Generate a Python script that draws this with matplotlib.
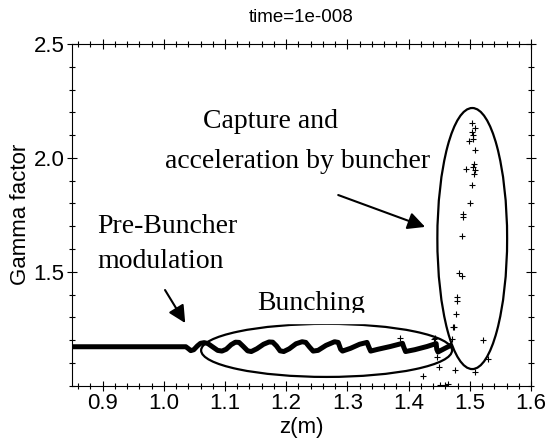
import matplotlib
matplotlib.use("Agg")
import matplotlib.pyplot as plt
from matplotlib.patches import Ellipse, Rectangle
from matplotlib.ticker import MultipleLocator

# main particle stream (thick band), z in m and gamma
stream_z = [0.85, 1.036, 1.040, 1.044, 1.049, 1.055, 1.060, 1.066, 1.072, 1.080,
            1.088, 1.095, 1.102, 1.110, 1.117, 1.123, 1.130, 1.137, 1.143, 1.152,
            1.163, 1.172, 1.178, 1.184, 1.190, 1.196, 1.205, 1.216, 1.226, 1.232,
            1.238, 1.244, 1.252, 1.265, 1.279, 1.285, 1.289, 1.292, 1.305, 1.320,
            1.332, 1.335, 1.338, 1.350, 1.370, 1.390, 1.392, 1.395, 1.410, 1.430,
            1.445, 1.446, 1.448, 1.460, 1.471]
stream_g = [1.171, 1.171, 1.163, 1.154, 1.158, 1.175, 1.186, 1.189, 1.185, 1.170,
            1.155, 1.152, 1.160, 1.180, 1.191, 1.190, 1.172, 1.153, 1.150, 1.162,
            1.182, 1.192, 1.191, 1.175, 1.153, 1.150, 1.162, 1.184, 1.193, 1.190,
            1.170, 1.152, 1.155, 1.177, 1.193, 1.190, 1.160, 1.152, 1.164, 1.182,
            1.190, 1.170, 1.152, 1.160, 1.172, 1.186, 1.170, 1.150, 1.158, 1.172,
            1.185, 1.160, 1.148, 1.165, 1.180]

# scattered particles
pts_z = [1.386, 1.441, 1.443, 1.446, 1.449, 1.451, 1.460, 1.465, 1.424, 1.471,
         1.475, 1.473, 1.474, 1.477, 1.479, 1.479, 1.483, 1.488, 1.487, 1.489,
         1.489, 1.500, 1.504, 1.494, 1.507, 1.508, 1.506, 1.507, 1.509, 1.498,
         1.505, 1.506, 1.504, 1.503, 1.509, 1.521, 1.529, 1.509]
pts_g = [1.208, 1.206, 1.210, 1.127, 1.083, 1.003, 1.003, 1.007, 1.043, 1.204,
         1.069, 1.259, 1.256, 1.315, 1.373, 1.391, 1.496, 1.483, 1.657, 1.754,
         1.742, 1.800, 1.881, 1.950, 1.930, 1.945, 1.960, 1.975, 2.035, 2.076,
         2.085, 2.100, 2.115, 2.155, 2.130, 1.201, 1.116, 1.061]

fig = plt.figure(figsize=(5.47, 4.47), dpi=100)
ax = fig.add_axes([72 / 547, 1 - 385.7 / 447, (531 - 72) / 547, (385.7 - 44) / 447])

ax.plot(stream_z, stream_g, color="black", lw=3.6, solid_joinstyle="round",
        solid_capstyle="butt")
ax.plot(pts_z, pts_g, "+", color="black", ms=5, mew=0.8)

ax.add_patch(Ellipse((1.266, 1.155), 0.41, 0.233, fill=False, lw=1.6, color="black"))
ax.add_patch(Ellipse((1.504, 1.646), 0.114, 1.146, fill=False, lw=1.6, color="black"))

serif = "Liberation Serif"
ax.text(1.175, 2.158, "Capture and", fontsize=20, family=serif, ha="center", va="center")
ax.text(1.219, 1.986, "acceleration by buncher", fontsize=20, family=serif, ha="center", va="center")
ax.text(0.891, 1.701, "Pre-Buncher", fontsize=20, family=serif, ha="left", va="center")
ax.text(0.891, 1.547, "modulation", fontsize=20, family=serif, ha="left", va="center")
ax.text(1.241, 1.359, "Bunching", fontsize=20, family=serif, ha="center", va="center")
# the original cuts off the bottom of "Bunching"
ax.add_patch(Rectangle((1.10, 1.277), 0.25, 0.042, color="white", zorder=5))

arrow = dict(arrowstyle="-|>", lw=1.5, color="black", mutation_scale=26, shrinkA=0, shrinkB=0)
ax.annotate("", xy=(1.035, 1.275), xytext=(1.002, 1.420), arrowprops=arrow)
ax.annotate("", xy=(1.427, 1.697), xytext=(1.285, 1.837), arrowprops=arrow)

ax.set_xlim(0.85, 1.6)
ax.set_ylim(1.0, 2.5)
ax.xaxis.set_major_locator(MultipleLocator(0.1))
ax.xaxis.set_minor_locator(MultipleLocator(0.02))
ax.yaxis.set_minor_locator(MultipleLocator(0.1))
ax.set_yticks([1.5, 2.0, 2.5])
ax.set_yticklabels(["1.5", "2.0", "2.5"])
ax.tick_params(which="both", direction="inout", top=True, right=True, width=0.8)
ax.tick_params(which="major", length=7, labelsize=16, pad=2)
ax.tick_params(which="minor", length=4)
for lab in ax.get_xticklabels() + ax.get_yticklabels():
    lab.set_family("Liberation Sans")

ax.set_xlabel("z(m)", fontsize=16, family="Liberation Sans", labelpad=2)
ax.set_ylabel("Gamma factor", fontsize=16, family="Liberation Sans", labelpad=2)
ax.set_title("time=1e-008", fontsize=13.5, family="Liberation Sans", pad=16)

fig.savefig("out.png", dpi=100)
